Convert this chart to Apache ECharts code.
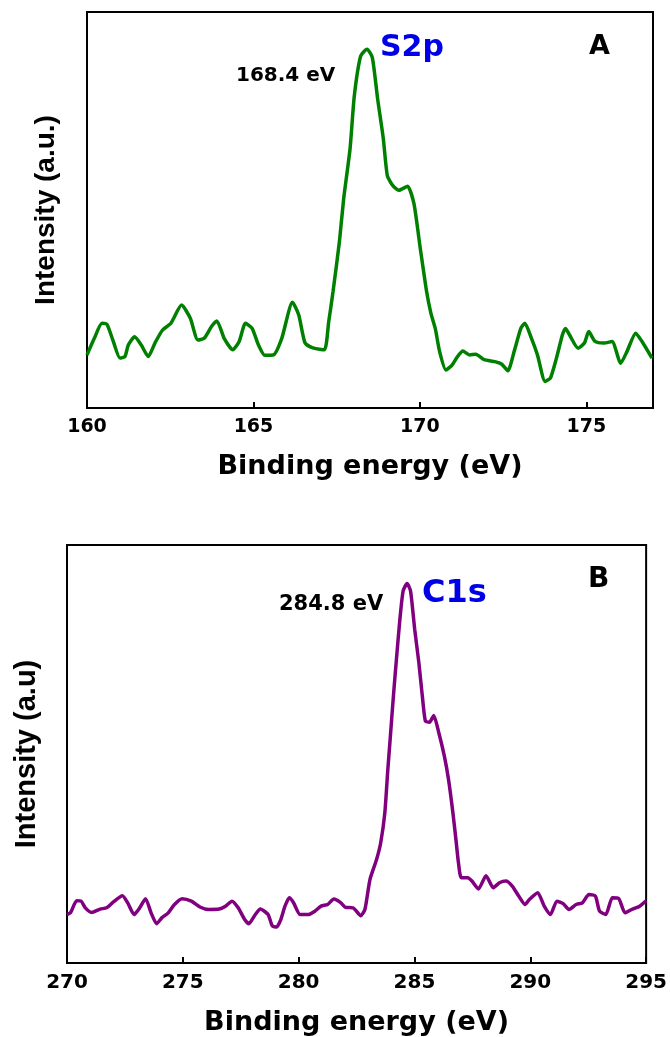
<!DOCTYPE html>
<html>
<head>
<meta charset="utf-8">
<script src="https://cdn.jsdelivr.net/npm/echarts@6/dist/echarts.min.js"></script>
<style>
html,body{margin:0;padding:0;background:#fff;}
#chart{width:670px;height:1037px;}
</style>
</head>
<body>
<div id="chart"></div>
<script>
// Panel A: S2p spectrum (binding energy eV, relative intensity)
var energyA = [160.0,160.22,160.45,160.6,160.79,160.99,161.14,161.24,161.43,161.63,161.84,162.04,162.27,162.52,162.84,163.1,163.33,163.52,163.74,163.9,164.12,164.38,164.57,164.76,164.96,165.15,165.34,165.6,165.85,166.17,166.36,166.55,166.81,167.13,167.26,167.39,167.58,167.71,167.9,168.03,168.22,168.41,168.57,168.73,168.9,169.02,169.18,169.37,169.63,169.82,170.01,170.2,170.33,170.46,170.59,170.78,170.97,171.13,171.29,171.49,171.68,171.93,172.25,172.45,172.64,172.83,173.03,173.15,173.35,173.53,173.76,173.92,174.1,174.28,174.37,174.49,174.75,174.94,175.07,175.26,175.52,175.77,176.03,176.22,176.48,176.67,176.97];
var intensityA = [13.4,17.6,21.4,21.1,16.8,12.6,13.0,15.9,18.0,15.9,13.0,16.4,19.7,21.4,26.0,22.7,17.2,17.6,20.6,22.0,17.6,14.7,16.8,21.4,20.1,15.9,13.3,13.4,17.6,26.7,23.5,16.4,15.1,14.7,21.8,29.4,41.9,52.9,65.4,78.9,88.9,90.6,88.5,78.0,68.0,58.7,56.2,55.0,56.0,51.6,40.3,29.4,23.9,20.1,14.3,9.6,10.9,13.0,14.4,13.4,13.6,12.2,11.7,11.1,9.4,14.3,20.1,21.4,17.6,13.4,6.7,7.6,12.6,18.5,20.1,18.5,15.1,16.4,19.3,16.8,16.4,16.8,11.3,14.3,18.9,16.8,12.6];
var ticksA = [160,165,170,175];

// Panel B: C1s spectrum
var energyB = [270.0,270.15,270.42,270.61,270.79,271.06,271.43,271.71,271.98,272.39,272.62,272.9,273.14,273.39,273.63,273.87,274.09,274.37,274.64,274.97,275.37,275.74,276.11,276.57,276.84,277.12,277.39,277.67,277.85,278.13,278.35,278.68,278.86,279.05,279.23,279.41,279.6,279.78,280.06,280.42,280.7,280.97,281.25,281.52,281.8,282.02,282.35,282.68,282.86,283.08,283.36,283.54,283.72,283.85,283.96,284.09,284.22,284.37,284.51,284.68,284.83,285.01,285.19,285.34,285.47,285.65,285.83,286.05,286.29,286.47,286.66,286.79,286.9,287.02,287.3,287.48,287.76,288.09,288.4,288.67,288.95,289.22,289.5,289.77,289.96,290.32,290.6,290.87,291.15,291.42,291.67,291.98,292.25,292.53,292.81,292.99,293.26,293.54,293.82,294.09,294.37,294.72,295.0];
var intensityB = [11.6,12.0,14.9,14.8,13.2,12.1,12.9,13.2,14.5,16.1,14.4,11.6,13.2,15.4,12.0,9.4,10.8,12.0,14.0,15.4,14.8,13.4,12.8,12.9,13.6,14.8,13.2,10.4,9.4,11.6,12.9,11.6,8.9,8.6,10.4,13.6,15.6,14.4,11.6,11.6,12.4,13.6,14.0,15.3,14.5,13.3,13.2,11.3,12.8,20.0,24.7,28.7,35.9,46.3,54.3,63.8,72.6,82.2,89.0,90.8,89.0,79.8,71.8,63.8,57.9,57.6,59.2,55.1,49.5,43.9,35.9,29.5,23.9,20.4,20.4,19.6,17.7,20.9,18.0,19.2,19.6,18.4,16.0,14.0,15.2,16.8,13.6,11.6,14.8,14.2,12.8,14.0,14.4,16.4,16.0,12.4,11.6,15.6,15.4,12.0,12.8,13.6,14.9];
var ticksB = [270,275,280,285,290,295];

function pairs(xs, ys){ return xs.map(function(x,i){ return [x, ys[i]]; }); }

var chart = echarts.init(document.getElementById('chart'), null, {renderer:'canvas'});
var tickFont = {fontFamily:'DejaVu Sans', fontWeight:'bold', color:'#000'};

function xAxisCfg(idx, min, max, ticks, fs, margin, nameGap, nameFs){
  return {
    gridIndex: idx, type:'value', min:min, max:max, interval:5,
    name:'Binding energy (eV)', nameLocation:'middle', nameGap:nameGap,
    nameTextStyle:{fontFamily:'DejaVu Sans', fontWeight:'bold', fontSize:nameFs, color:'#000'},
    axisLine:{show:true, lineStyle:{color:'#000', width:2}},
    axisTick:{show:true, inside:true, length:6, lineStyle:{color:'#000', width:2}},
    axisLabel:Object.assign({fontSize:fs, margin:margin, showMaxLabel:true,
      formatter:function(v){ return ticks.indexOf(v) >= 0 ? String(v) : ''; }}, tickFont),
    splitLine:{show:false}
  };
}
function yAxisCfg(idx, name, nameGap, nameFs){
  return {
    gridIndex: idx, type:'value', min:0, max:100,
    name:name, nameLocation:'middle', nameGap:nameGap,
    nameTextStyle:{fontFamily:'Liberation Sans', fontWeight:'bold', fontSize:nameFs, color:'#000'},
    axisLine:{show:true, lineStyle:{color:'#000', width:2}},
    axisTick:{show:false}, axisLabel:{show:false}, splitLine:{show:false}
  };
}

var option = {
  backgroundColor:'#fff',
  animation:false,
  grid:[
    {left:87, top:12, width:566, height:396, show:true, borderColor:'#000', borderWidth:2, backgroundColor:'transparent'},
    {left:67, top:545, width:583, height:418, show:true, borderColor:'#000', borderWidth:2, backgroundColor:'transparent'}
  ],
  xAxis:[
    xAxisCfg(0, 160, 177, ticksA, 19, 10, 45, 27),
    xAxisCfg(1, 270, 295, ticksB, 20, 10, 46, 27)
  ],
  yAxis:[
    yAxisCfg(0, 'Intensity (a.u.)', 27, 28),
    yAxisCfg(1, 'Intensity (a.u)', 26, 29)
  ],
  series:[
    {type:'line', xAxisIndex:0, yAxisIndex:0, data:pairs(energyA, intensityA), showSymbol:false, smooth:0.2,
     lineStyle:{color:'#008000', width:3.5}},
    {type:'line', xAxisIndex:1, yAxisIndex:1, data:pairs(energyB, intensityB), showSymbol:false, smooth:0.2,
     lineStyle:{color:'#800080', width:3.5}}
  ],
  graphic:[
    {type:'text', left:380, top:33, style:{text:'S2p', fontFamily:'DejaVu Sans', fontWeight:'bold', fontSize:30, fill:'#0000e6'}},
    {type:'text', left:236, top:66, style:{text:'168.4 eV', fontFamily:'DejaVu Sans', fontWeight:'bold', fontSize:20, fill:'#000'}},
    {type:'text', left:589, top:33, style:{text:'A', fontFamily:'DejaVu Sans', fontWeight:'bold', fontSize:27, fill:'#000'}},
    {type:'text', left:422, top:578, style:{text:'C1s', fontFamily:'DejaVu Sans', fontWeight:'bold', fontSize:32, fill:'#0000e6'}},
    {type:'text', left:279, top:594, style:{text:'284.8 eV', fontFamily:'DejaVu Sans', fontWeight:'bold', fontSize:21, fill:'#000'}},
    {type:'text', left:588, top:566, style:{text:'B', fontFamily:'DejaVu Sans', fontWeight:'bold', fontSize:28, fill:'#000'}}
  ]
};
chart.setOption(option);
</script>
</body>
</html>
